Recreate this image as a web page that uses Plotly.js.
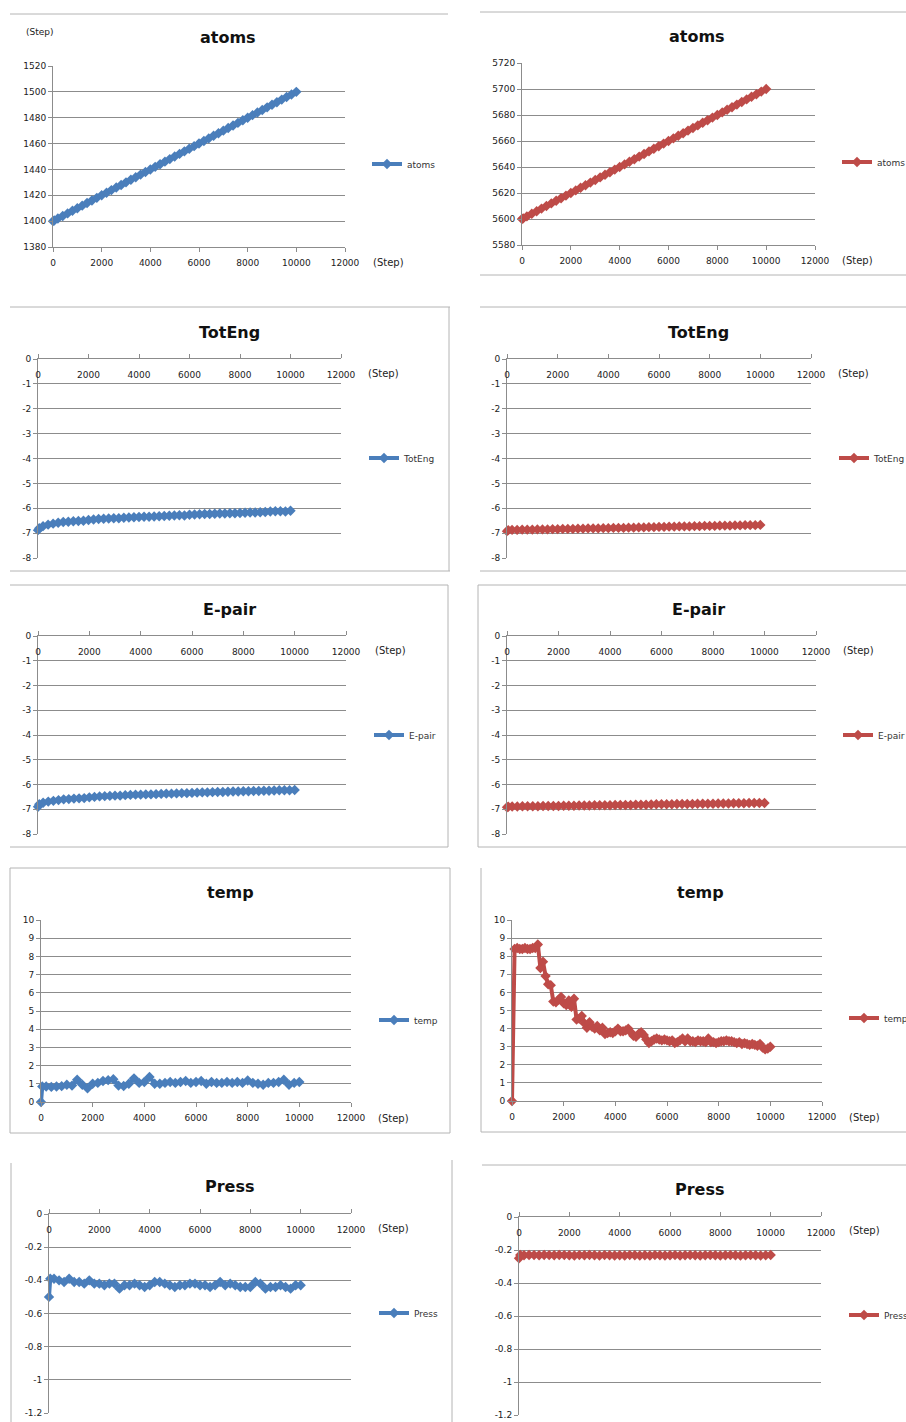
<!DOCTYPE html>
<html><head><meta charset="utf-8">
<script src="https://cdn.plot.ly/plotly-3.0.1.min.js"></script>
<style>html,body{margin:0;padding:0;background:#fff;overflow:hidden}#wrap{width:906px;height:1422px;overflow:hidden}#chart{width:960px;height:1422px}</style>
</head><body><div id="wrap"><div id="chart"></div></div>
<script>
// ---------- data ----------
const steps = [0,50,200,400,600,800,1000,1200,1400,1600,1800,2000,2200,2400,2600,2800,3000,3200,3400,3600,3800,4000,4200,4400,4600,4800,5000,5200,5400,5600,5800,6000,6200,6400,6600,6800,7000,7200,7400,7600,7800,8000,8200,8400,8600,8800,9000,9200,9400,9600,9800,10000];
const stepsFine = [0,100,200,300,400,500,600,700,800,900,1000,1100,1200,1300,1400,1500,1600,1700,1800,1900,2000,2100,2200,2300,2400,2500,2600,2700,2800,2900,3000,3100,3200,3300,3400,3500,3600,3700,3800,3900,4000,4100,4200,4300,4400,4500,4600,4700,4800,4900,5000,5100,5200,5300,5400,5500,5600,5700,5800,5900,6000,6100,6200,6300,6400,6500,6600,6700,6800,6900,7000,7100,7200,7300,7400,7500,7600,7700,7800,7900,8000,8100,8200,8300,8400,8500,8600,8700,8800,8900,9000,9100,9200,9300,9400,9500,9600,9700,9800,9900,10000];

const atomsBlue = [1400,1400.5,1402,1404,1406,1408,1410,1412,1414,1416,1418,1420,1422,1424,1426,1428,1430,1432,1434,1436,1438,1440,1442,1444,1446,1448,1450,1452,1454,1456,1458,1460,1462,1464,1466,1468,1470,1472,1474,1476,1478,1480,1482,1484,1486,1488,1490,1492,1494,1496,1498,1500];
const atomsRed = [5600,5600.5,5602,5604,5606,5608,5610,5612,5614,5616,5618,5620,5622,5624,5626,5628,5630,5632,5634,5636,5638,5640,5642,5644,5646,5648,5650,5652,5654,5656,5658,5660,5662,5664,5666,5668,5670,5672,5674,5676,5678,5680,5682,5684,5686,5688,5690,5692,5694,5696,5698,5700];

const totEngBlue = [-6.88,-6.8,-6.72,-6.66,-6.62,-6.58,-6.55,-6.54,-6.52,-6.51,-6.5,-6.47,-6.45,-6.43,-6.42,-6.41,-6.4,-6.4,-6.38,-6.37,-6.36,-6.35,-6.34,-6.34,-6.33,-6.32,-6.31,-6.3,-6.29,-6.28,-6.29,-6.26,-6.25,-6.24,-6.23,-6.23,-6.22,-6.21,-6.21,-6.2,-6.2,-6.19,-6.18,-6.17,-6.17,-6.16,-6.15,-6.13,-6.12,-6.12,-6.13,-6.1];
const totEngRed = [-6.92,-6.88,-6.87,-6.87,-6.86,-6.86,-6.86,-6.85,-6.85,-6.85,-6.84,-6.84,-6.83,-6.83,-6.83,-6.82,-6.82,-6.81,-6.81,-6.81,-6.8,-6.8,-6.79,-6.79,-6.79,-6.78,-6.78,-6.77,-6.77,-6.76,-6.76,-6.75,-6.75,-6.74,-6.74,-6.73,-6.73,-6.73,-6.72,-6.72,-6.71,-6.71,-6.71,-6.7,-6.7,-6.7,-6.69,-6.69,-6.68,-6.68,-6.68,-6.67];

const ePairBlue = [-6.9,-6.8,-6.74,-6.69,-6.66,-6.63,-6.6,-6.59,-6.57,-6.56,-6.55,-6.52,-6.5,-6.48,-6.47,-6.46,-6.45,-6.45,-6.43,-6.42,-6.41,-6.41,-6.4,-6.4,-6.39,-6.38,-6.37,-6.37,-6.36,-6.35,-6.35,-6.34,-6.33,-6.32,-6.32,-6.31,-6.3,-6.3,-6.29,-6.28,-6.28,-6.27,-6.27,-6.26,-6.26,-6.25,-6.25,-6.24,-6.23,-6.23,-6.23,-6.22];
const ePairRed = [-6.92,-6.9,-6.89,-6.89,-6.88,-6.88,-6.88,-6.88,-6.87,-6.87,-6.87,-6.87,-6.86,-6.86,-6.86,-6.85,-6.85,-6.85,-6.84,-6.84,-6.84,-6.84,-6.83,-6.83,-6.83,-6.83,-6.82,-6.82,-6.82,-6.81,-6.8,-6.8,-6.8,-6.8,-6.79,-6.79,-6.79,-6.79,-6.78,-6.78,-6.78,-6.78,-6.77,-6.77,-6.77,-6.76,-6.76,-6.76,-6.75,-6.75,-6.75,-6.75];

const tempBlue = [0,0.85,0.85,0.83,0.85,0.87,0.95,0.9,1.22,0.95,0.75,1.0,1.05,1.15,1.2,1.25,0.9,0.88,1.0,1.3,1.05,1.1,1.38,1.0,1.0,1.05,1.1,1.05,1.1,1.15,1.05,1.1,1.15,1.0,1.1,1.05,1.05,1.1,1.05,1.1,1.05,1.18,1.05,1.0,0.95,1.05,1.05,1.1,1.22,0.95,1.05,1.1];
const tempRed = [0,8.4,8.45,8.4,8.4,8.45,8.4,8.4,8.45,8.45,8.65,7.35,7.7,6.9,6.45,6.4,5.5,5.45,5.6,5.75,5.4,5.3,5.55,5.2,5.65,4.5,4.55,4.7,4.3,4.05,4.35,4.1,4.0,4.15,3.9,4.05,3.7,3.75,3.8,3.75,3.85,4.0,3.85,3.85,3.9,4.0,3.8,3.6,3.55,3.7,3.8,3.65,3.4,3.2,3.3,3.4,3.45,3.4,3.35,3.4,3.35,3.3,3.35,3.2,3.25,3.35,3.45,3.3,3.45,3.3,3.3,3.25,3.35,3.3,3.3,3.25,3.45,3.25,3.25,3.2,3.25,3.3,3.3,3.35,3.3,3.3,3.25,3.2,3.25,3.15,3.2,3.15,3.1,3.15,3.1,3.05,3.15,2.95,2.85,2.9,3.0];

const pressBlue = [-0.5,-0.39,-0.39,-0.4,-0.41,-0.39,-0.41,-0.41,-0.42,-0.4,-0.42,-0.42,-0.43,-0.42,-0.42,-0.45,-0.43,-0.43,-0.42,-0.43,-0.44,-0.43,-0.41,-0.41,-0.42,-0.43,-0.44,-0.43,-0.43,-0.42,-0.42,-0.43,-0.43,-0.44,-0.43,-0.41,-0.43,-0.42,-0.43,-0.44,-0.44,-0.44,-0.41,-0.42,-0.45,-0.44,-0.44,-0.43,-0.44,-0.45,-0.43,-0.43];
const pressRed = [-0.25,-0.23,-0.232,-0.23,-0.231,-0.232,-0.23,-0.231,-0.232,-0.23,-0.231,-0.232,-0.233,-0.231,-0.232,-0.23,-0.232,-0.233,-0.231,-0.232,-0.233,-0.232,-0.233,-0.231,-0.232,-0.233,-0.232,-0.233,-0.231,-0.232,-0.233,-0.232,-0.231,-0.233,-0.232,-0.231,-0.232,-0.233,-0.232,-0.231,-0.232,-0.233,-0.232,-0.231,-0.232,-0.233,-0.232,-0.231,-0.232,-0.233,-0.232,-0.23];

const energyTickVals = [0,-1,-2,-3,-4,-5,-6,-7,-8];
const energyTickText = ['0','-1','-2','-3','-4','-5','-6','-7','-8'];
const pressTickVals = [0,-0.2,-0.4,-0.6,-0.8,-1,-1.2];
const pressTickText = ['0','-0.2','-0.4','-0.6','-0.8','-1','-1.2'];

// ---------- layout helpers ----------
const PW = 960, PH = 1422;
const fx = p => p / PW, fy = p => 1 - p / PH;
const BLUE = '#4a7ebb', RED = '#be4b48';
const GRID = '#8c8c8c', AXC = '#8c8c8c', TXT = '#222';
const FONT = 'DejaVu Sans';

const panels = [
  {name:'atoms',  x:steps, y:atomsBlue,  c:BLUE, box:[53,345,66,247],   range:[1380,1520], dtick:20, top:false, title:[228,38],  leg:[378,164],  stepLbl:[388,262]},
  {name:'atoms',  x:steps, y:atomsRed,   c:RED,  box:[522,815,63,245],  range:[5580,5720], dtick:20, top:false, title:[697,36],  leg:[848,162],  stepLbl:[857,260]},
  {name:'TotEng', x:steps, y:totEngBlue, c:BLUE, box:[38,341,359,558],  range:[-8,0], tv:energyTickVals, tt:energyTickText, top:true, title:[229,332], leg:[375,458], stepLbl:[383,374]},
  {name:'TotEng', x:steps, y:totEngRed,  c:RED,  box:[507,811,359,558], range:[-8,0], tv:energyTickVals, tt:energyTickText, top:true, title:[698,332], leg:[845,458], stepLbl:[853,374]},
  {name:'E-pair', x:steps, y:ePairBlue,  c:BLUE, box:[38,346,636,834],  range:[-8,0], tv:energyTickVals, tt:energyTickText, top:true, title:[229,609], leg:[380,735], stepLbl:[390,650]},
  {name:'E-pair', x:steps, y:ePairRed,   c:RED,  box:[507,816,636,834], range:[-8,0], tv:energyTickVals, tt:energyTickText, top:true, title:[698,609], leg:[849,735], stepLbl:[858,650]},
  {name:'temp',   x:steps, y:tempBlue,   c:BLUE, box:[41,351,920,1102], range:[0,10], dtick:1, top:false, title:[230,893],  leg:[385,1020], stepLbl:[393,1118]},
  {name:'temp',   x:stepsFine, y:tempRed,c:RED,  box:[512,822,920,1101],range:[0,10], dtick:1, top:false, title:[700,892],  leg:[855,1018], stepLbl:[864,1117]},
  {name:'Press',  x:steps, y:pressBlue,  c:BLUE, box:[49,351,1214,1413],range:[-1.2,0], tv:pressTickVals, tt:pressTickText, top:true, title:[230,1186], leg:[385,1313], stepLbl:[393,1228]},
  {name:'Press',  x:steps, y:pressRed,   c:RED,  box:[519,821,1217,1415],range:[-1.2,0], tv:pressTickVals, tt:pressTickText, top:true, title:[700,1189], leg:[855,1315], stepLbl:[864,1230]}
];

const data = [];
const layout = {
  width: PW, height: PH,
  margin: {l:0, r:0, t:0, b:0, autoexpand:false},
  paper_bgcolor:'#fff', plot_bgcolor:'rgba(0,0,0,0)',
  font: {family: FONT, color: TXT},
  annotations: [], shapes: []
};

panels.forEach((p, i) => {
  const k = i === 0 ? '' : String(i + 1);
  const tickfont = {family: FONT, size: 9, color: TXT};
  data.push({
    type:'scatter', mode:'lines+markers', name:p.name, x:p.x, y:p.y,
    xaxis:'x'+k, yaxis:'y'+k, legend:'legend'+k, showlegend:true, cliponaxis:false,
    line:{color:p.c, width:4}, marker:{symbol:'diamond', size:8, color:p.c}
  });
  layout['xaxis'+k] = {
    domain:[fx(p.box[0]), fx(p.box[1])], range:[0,12000], tick0:0, dtick:2000, tickformat:'d',
    anchor:'y'+k, side: p.top ? 'top' : 'bottom',
    ticks:'outside', ticklen:4, tickcolor:AXC, showline:true, linecolor:AXC, linewidth:1,
    showgrid:false, zeroline:false, tickfont:tickfont,
    ticklabelposition: p.top ? 'inside' : 'outside', ticklabeloverflow:'allow',
    ticklabelstandoff: p.top ? 12 : 3, fixedrange:true
  };
  const ya = {
    domain:[fy(p.box[3]), fy(p.box[2])], range:p.range, anchor:'x'+k,
    ticks:'outside', ticklen:4, tickcolor:AXC, showline:true, linecolor:AXC, linewidth:1,
    showgrid:true, gridcolor:GRID, gridwidth:1, zeroline:false, tickfont:tickfont, fixedrange:true
  };
  if (p.tv) { ya.tickmode='array'; ya.tickvals=p.tv; ya.ticktext=p.tt; }
  else { ya.tick0 = p.range[0]; ya.dtick = p.dtick; }
  layout['yaxis'+k] = ya;
  layout['legend'+k] = {
    x: fx(p.leg[0] - 11), y: fy(p.leg[1]), xanchor:'left', yanchor:'middle',
    bgcolor:'rgba(0,0,0,0)', borderwidth:0, itemwidth:30,
    font:{family:FONT, size:9, color:'#333'}
  };
  layout.annotations.push({
    xref:'paper', yref:'paper', x:fx(p.title[0]), y:fy(p.title[1]), xanchor:'center', yanchor:'middle',
    text:'<b>'+p.name+'</b>', showarrow:false, font:{family:FONT, size:16, color:'#111'}
  });
  layout.annotations.push({
    xref:'paper', yref:'paper', x:fx(p.stepLbl[0]), y:fy(p.stepLbl[1]), xanchor:'center', yanchor:'middle',
    text:'(Step)', showarrow:false, font:{family:FONT, size:10, color:TXT}
  });
});

layout.annotations.push({
  xref:'paper', yref:'paper', x:fx(40), y:fy(32), xanchor:'center', yanchor:'middle',
  text:'(Step)', showarrow:false, font:{family:FONT, size:9, color:TXT}
});

// panel frames (decoration)
const frames = [
  [10,14,448,14],
  [480,12,906,12],[480,275,906,275],
  [10,307,450,307],[449,307,449,571],[10,571,450,571],
  [480,307,906,307],[480,571,906,571],
  [10,585,448,585],[448,585,448,847],[10,847,448,847],
  [478,585,906,585],[478,585,478,847],[478,847,906,847],
  [10,868,450,868],[10,868,10,1133],[450,868,450,1133],[10,1133,450,1133],
  [481,868,481,1132],[481,1132,906,1132],
  [11,1163,11,1422],
  [482,1165,906,1165],[452,1160,452,1422]
];
frames.forEach(f => layout.shapes.push({
  type:'line', xref:'paper', yref:'paper', x0:fx(f[0]), y0:fy(f[1]), x1:fx(f[2]), y1:fy(f[3]),
  line:{color:'#b4b4b4', width:1}
}));

Plotly.newPlot('chart', data, layout, {staticPlot:true, displayModeBar:false});
</script>
</body></html>
